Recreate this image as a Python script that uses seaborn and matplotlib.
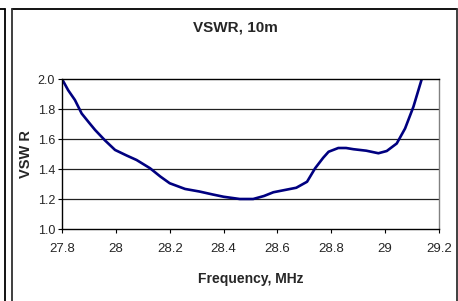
import matplotlib
matplotlib.use('Agg')
import matplotlib.pyplot as plt
import seaborn as sns
import pandas as pd
from matplotlib.lines import Line2D

# VSWR readings across the 10 m band
freq = [27.80, 27.823, 27.848, 27.873, 27.90, 27.923, 27.96, 27.997, 28.04, 28.077,
        28.127, 28.165, 28.20, 28.257, 28.31, 28.36, 28.40, 28.46, 28.51, 28.55,
        28.585, 28.67, 28.71, 28.74, 28.77, 28.79, 28.826, 28.855, 28.882, 28.93,
        28.975, 29.006, 29.043, 29.074, 29.105, 29.136]
vswr = [2.00, 1.925, 1.86, 1.77, 1.71, 1.66, 1.59, 1.527, 1.49, 1.46,
        1.405, 1.35, 1.305, 1.267, 1.25, 1.23, 1.215, 1.20, 1.20, 1.22,
        1.245, 1.275, 1.315, 1.405, 1.475, 1.515, 1.54, 1.54, 1.532, 1.522,
        1.505, 1.52, 1.57, 1.67, 1.815, 2.00]
x_ticks = [27.8, 28.0, 28.2, 28.4, 28.6, 28.8, 29.0, 29.2]
x_labels = ['27.8', '28', '28.2', '28.4', '28.6', '28.8', '29', '29.2']
y_ticks = [1.0, 1.2, 1.4, 1.6, 1.8, 2.0]

df = pd.DataFrame({'Frequency': freq, 'VSWR': vswr})

sns.set_style('white')
plt.rcParams['font.family'] = ['Liberation Sans', 'DejaVu Sans']

fig = plt.figure(figsize=(4.58, 3.01), dpi=100)
ax = fig.add_axes([62 / 458, 72 / 301, 377 / 458, 150 / 301])

sns.lineplot(data=df, x='Frequency', y='VSWR', ax=ax, color='#000080',
             linewidth=1.9, sort=False, estimator=None)

ax.set_xlim(27.8, 29.2)
ax.set_ylim(1.0, 2.0)
ax.set_xticks(x_ticks)
ax.set_xticklabels(x_labels, fontsize=9.5)
ax.set_yticks(y_ticks)
ax.set_yticklabels([f'{v:.1f}' for v in y_ticks], fontsize=9)
ax.tick_params(axis='both', direction='out', length=3, width=0.8, color='black',
               bottom=True, left=True, pad=2)
ax.tick_params(axis='x', pad=7)
for yv in y_ticks[1:-1]:
    ax.axhline(yv, color='#202020', linewidth=0.9, zorder=0)

for side in ['left', 'bottom', 'top']:
    ax.spines[side].set_color('black')
    ax.spines[side].set_linewidth(1.0)
ax.spines['right'].set_color('#808080')
ax.spines['right'].set_linewidth(1.0)

ax.set_xlabel('Frequency, MHz', fontsize=10, fontweight='bold', labelpad=12)
ax.set_ylabel('VSW R', fontsize=10.5, fontweight='bold')
ax.yaxis.set_label_coords(-0.078, 0.5)
fig.text(235 / 458, 1 - 28 / 301, 'VSWR, 10m', fontsize=11, fontweight='bold',
         ha='center', va='center')

# outer frames (chart border and neighbouring chart edge)
W, H = 458, 301
def fline(x0, y0, x1, y1, c='#303030', lw=1.3):
    fig.add_artist(Line2D([x0 / W, x1 / W], [1 - y0 / H, 1 - y1 / H], color=c,
                          linewidth=lw, transform=fig.transFigure))

fline(11.5, 8.5, 456.5, 8.5, c='black')
fline(11.5, 8.5, 11.5, 305)
fline(456.5, 8.5, 456.5, 305)
fline(0, 8.5, 4.5, 8.5, c='black')
fline(4.5, 8.5, 4.5, 305, c='black')

fig.savefig('out.png', dpi=100)
